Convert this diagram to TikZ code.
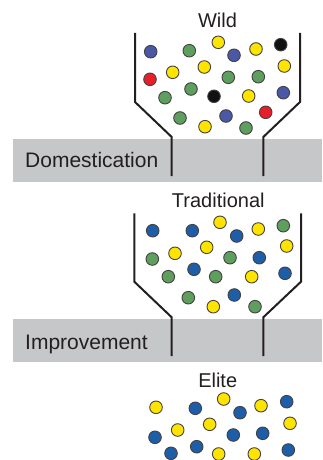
\documentclass[tikz,border=0pt]{standalone}
\usepackage{fontspec}
\setmainfont{Liberation Sans}
\definecolor{bandgray}{HTML}{C6C7C9}
\definecolor{inkc}{HTML}{231F20}
\definecolor{ballB}{HTML}{4A58A6}
\definecolor{ballD}{HTML}{1E5EA8}
\definecolor{ballG}{HTML}{5E9E5E}
\definecolor{ballY}{HTML}{FFE400}
\definecolor{ballR}{HTML}{E6202B}
\definecolor{ballK}{HTML}{111111}
\begin{document}
\begin{tikzpicture}[x=1pt,y=-1pt,
  band/.style={fill=bandgray,draw=none},
  wall/.style={draw=inkc,line width=2pt},
  ball/.style={draw=inkc!85,line width=0.9pt},
  title/.style={font=\fontsize{20}{22}\selectfont,text=inkc,inner sep=0pt},
  bandlabel/.style={font=\fontsize{21}{23}\selectfont,text=inkc,inner sep=0pt,anchor=base west}]
\useasboundingbox (0,0) rectangle (322,460);
\begin{scope}
\clip (0,0) rectangle (322,460);
% bands
\fill[band] (13,138.5) rectangle (322,181.5);
\fill[band] (13,318.5) rectangle (322,361.5);
\node[bandlabel] (dom) at (25,167.5) {Domestication};
\node[bandlabel] (imp) at (25,349) {Improvement};
% titles
\node[title] (wild) at (217.5,20) {Wild};
\node[title] (trad) at (218.3,200.5) {Traditional};
\node[title] (elite) at (217.7,380) {Elite};
% funnels
\draw[wall] (135,33) -- (135,102) -- (171.7,137) -- (171.7,176);
\draw[wall] (300,33) -- (300,102) -- (263.3,137) -- (263.3,176);
\draw[wall] (134.3,213.3) -- (134.3,281.7) -- (171.7,317.3) -- (171.7,356);
\draw[wall] (301,213.3) -- (301,281.7) -- (263.3,317.3) -- (263.3,356);
% wild balls
\foreach \x/\y/\c in {150.7/51.7/ballB, 189.3/50.7/ballG, 218.3/42.3/ballY, 234/55.3/ballB,
  256/49/ballY, 280.7/44.7/ballK, 150/79.3/ballR, 172.7/72.3/ballY, 204.3/67/ballY,
  228.3/77.3/ballG, 258.3/76.7/ballG, 284.3/66/ballY, 165/97.7/ballG, 191/89/ballG,
  214/96.3/ballK, 248.7/96/ballY, 283.3/92.7/ballB, 180/118/ballG, 205/126.7/ballY,
  226/116/ballB, 265.7/112.3/ballR, 246/128/ballG}
  \filldraw[ball,fill=\c] (\x,\y) circle (6.3);
% traditional balls
\foreach \x/\y/\c in {152.7/230.7/ballD, 192.3/230.7/ballD, 220/222.3/ballY, 236.7/236/ballD,
  258.3/229/ballY, 283.3/225.7/ballG, 152.3/259/ballG, 175/253.3/ballY, 206.7/247.3/ballY,
  230/257.7/ballG, 259.3/257.7/ballD, 286.7/246/ballY, 168.3/276.7/ballG, 194/269.3/ballD,
  215.7/276.7/ballG, 251.7/276.7/ballY, 285/273.3/ballD, 188.3/297.7/ballG,
  213.3/306.7/ballY, 234.3/295/ballD, 255/306.7/ballG}
  \filldraw[ball,fill=\c] (\x,\y) circle (6.3);
% elite balls
\foreach \x/\y/\c in {156/407.3/ballY, 195.3/408.3/ballD, 223.7/399/ballY, 240/412.7/ballD,
  261/405.7/ballY, 286.7/401.7/ballD, 155/437.3/ballD, 177.7/430/ballY, 209.7/424.3/ballY,
  233.3/435/ballD, 262.7/433.3/ballD, 290/423.3/ballY, 171/453.3/ballD, 196.7/446.7/ballD,
  218.7/454/ballY, 254.3/454/ballY, 288.3/450/ballD}
  \filldraw[ball,fill=\c] (\x,\y) circle (6.3);
\end{scope}
\end{tikzpicture}
\end{document}
